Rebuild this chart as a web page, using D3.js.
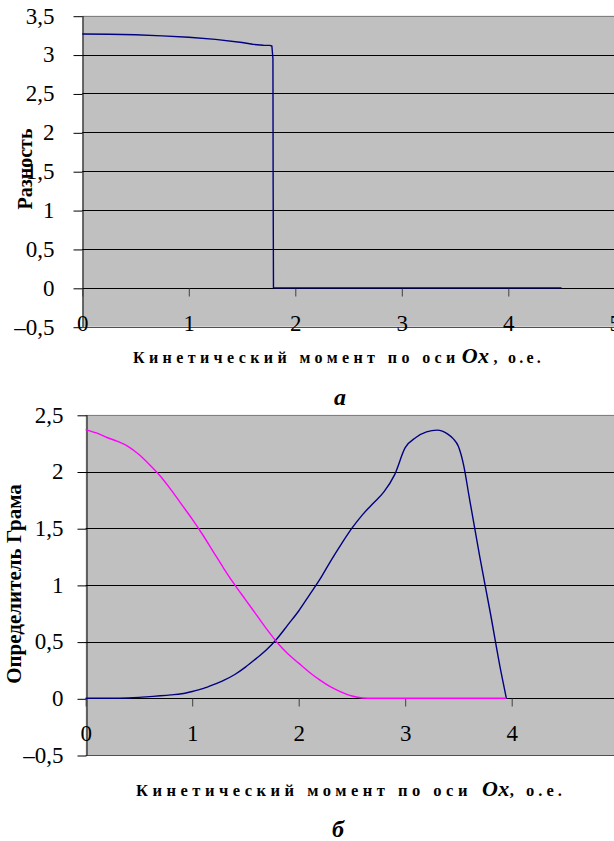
<!DOCTYPE html>
<html>
<head>
<meta charset="utf-8">
<script src="https://cdn.jsdelivr.net/npm/d3@7"></script>
<style>
  html, body { margin: 0; padding: 0; background: #fff; }
  svg { display: block; }
  text { font-family: "Liberation Serif", "Times New Roman", serif; fill: #000; }
</style>
</head>
<body>
<svg id="fig" width="614" height="841"></svg>
<script>
// Panel (а): difference vs kinetic moment about Ox
const diffX = [0, 0.25, 0.5, 0.75, 1.0, 1.25, 1.5, 1.6, 1.7, 1.76, 1.78, 1.79, 1.792, 1.795, 2.0, 2.5, 3.0, 3.5, 4.0, 4.5];
const diffY = [3.265, 3.262, 3.255, 3.24, 3.222, 3.195, 3.155, 3.132, 3.12, 3.118, 3.11, 2.95, 1.3, 0, 0, 0, 0, 0, 0, 0];

// Panel (б): two Gram determinants vs kinetic moment about Ox
const gramX = [0, 0.1, 0.2, 0.3, 0.4, 0.5, 0.6, 0.7, 0.8, 0.9, 1.0, 1.1, 1.2, 1.3, 1.4, 1.5, 1.6, 1.7, 1.8, 1.9,
               2.0, 2.1, 2.2, 2.3, 2.4, 2.5, 2.6, 2.7, 2.8, 2.9, 3.0, 3.1, 3.2, 3.3, 3.4, 3.45, 3.5, 3.55, 3.6, 3.7, 3.8, 3.9, 3.95];
const gramBlue = [0, 0, 0, 0.001, 0.003, 0.008, 0.015, 0.022, 0.03, 0.04, 0.06, 0.085, 0.12, 0.16, 0.21, 0.275, 0.35, 0.43, 0.53, 0.65,
                  0.77, 0.91, 1.05, 1.21, 1.36, 1.50, 1.62, 1.72, 1.82, 1.97, 2.21, 2.30, 2.35, 2.365, 2.33, 2.29, 2.22, 2.05, 1.78, 1.25, 0.75, 0.23, 0];
const gramPink = [2.37, 2.34, 2.30, 2.265, 2.22, 2.15, 2.06, 1.96, 1.84, 1.71, 1.58, 1.44, 1.29, 1.14, 1.0, 0.87, 0.74, 0.61, 0.49, 0.39,
                  0.31, 0.23, 0.16, 0.10, 0.055, 0.02, 0.003, 0, 0, 0, 0, 0, 0, 0, 0, 0, 0, 0, 0, 0, 0, 0, 0];

const xTicks = [0, 1, 2, 3, 4, 5];
const diffTicks = [-0.5, 0, 0.5, 1, 1.5, 2, 2.5, 3, 3.5];
const gramTicks = [-0.5, 0, 0.5, 1, 1.5, 2, 2.5];

const svg = d3.select("#fig");
const W = 614;

const fmt = v => (v < 0 ? "\u2013" : "") + String(Math.abs(v)).replace(".", ",");

function panel(cfg) {
  const { x, y, yTicks, labelPad, yTitle, yTitlePos, series, title, letter } = cfg;
  const g = svg.append("g");
  const [x0] = x.range();
  const [yb, yt] = y.range();

  // plot background
  g.append("rect")
    .attr("x", x0).attr("y", yt)
    .attr("width", W - x0).attr("height", yb - yt)
    .attr("fill", "#c0c0c0");

  // horizontal gridlines (bottom edge dark grey, top edge grey)
  g.append("g").selectAll("line")
    .data(yTicks)
    .join("line")
    .attr("x1", x0).attr("x2", W)
    .attr("y1", d => Math.round(y(d)) + 0.5).attr("y2", d => Math.round(y(d)) + 0.5)
    .attr("stroke", (d, i) => i === yTicks.length - 1 ? "#808080" : (i === 0 ? "#505050" : "#000"))
    .attr("stroke-width", 1);

  // y axis
  g.append("g")
    .attr("transform", `translate(${Math.round(x0) + 0.5},0)`)
    .call(d3.axisLeft(y).tickValues(yTicks).tickSizeInner(9).tickSizeOuter(0).tickPadding(labelPad).tickFormat(fmt))
    .call(a => a.select(".domain").attr("stroke", "#000"))
    .call(a => a.selectAll(".tick line").attr("stroke", "#000").attr("transform", "translate(0,0.5)"))
    .call(a => a.selectAll("text").attr("font-size", 23).attr("font-family", "Liberation Serif").attr("fill", "#000"));

  // x axis at y = 0, labels sit inside the plot near its bottom
  g.append("g")
    .attr("transform", `translate(0,${Math.round(y(0)) + 0.5})`)
    .call(d3.axisBottom(x).tickValues(xTicks).tickSizeInner(8).tickSizeOuter(0).tickFormat(d3.format("d")))
    .call(a => a.select(".domain").remove())
    .call(a => a.selectAll(".tick line").attr("stroke", "#404040"))
    .call(a => a.selectAll("text").attr("y", 34).attr("dy", "0.35em")
      .attr("font-size", 23).attr("font-family", "Liberation Serif").attr("fill", "#000"));

  // data lines
  series.forEach(s => {
    const line = d3.line()
      .x((d, i) => x(s.xs[i]))
      .y(d => y(d))
      .curve(s.curve);
    g.append("path")
      .datum(s.ys)
      .attr("d", line)
      .attr("fill", "none")
      .attr("stroke", s.color)
      .attr("stroke-width", 1.4)
      .attr("stroke-linejoin", "round");
  });

  // y title
  g.append("text")
    .attr("transform", `translate(${yTitlePos.x},${yTitlePos.y}) rotate(-90)`)
    .attr("text-anchor", "middle")
    .attr("dy", "0.35em")
    .attr("font-size", yTitlePos.size)
    .attr("font-weight", "bold")
    .text(yTitle);

  // x title
  const t = g.append("text")
    .attr("x", title.x).attr("y", title.y)
    .attr("font-weight", "bold");
  t.append("tspan").attr("font-size", title.size).attr("letter-spacing", title.spacing).text("Кинетический момент по оси");
  t.append("tspan").attr("font-size", 22).attr("font-style", "italic").attr("dx", title.oxGap).attr("letter-spacing", 0.5).text("Ox");
  t.append("tspan").attr("font-size", title.size).attr("letter-spacing", title.tailSpacing).attr("dx", title.commaGap).text(", о.е.");

  // panel letter
  g.append("text")
    .attr("x", letter.x).attr("y", letter.y)
    .attr("text-anchor", "middle")
    .attr("font-size", 24)
    .attr("font-weight", "bold")
    .attr("font-style", "italic")
    .text(letter.t);
}

const xa = d3.scaleLinear().domain([0, 5]).range([82.3, 614.8]);
const ya = d3.scaleLinear().domain([-0.5, 3.5]).range([326.7, 15.7]);
panel({
  x: xa, y: ya, yTicks: diffTicks, labelPad: 19,
  yTitle: "Разность", yTitlePos: { x: 25, y: 169, size: 20 },
  series: [{ xs: diffX, ys: diffY, color: "#000080", curve: d3.curveLinear }],
  title: { x: 133, y: 363, size: 16, spacing: 4.4, tailSpacing: 3.2, oxGap: 2, commaGap: 4 },
  letter: { x: 340, y: 405, t: "а" }
});

const xb = d3.scaleLinear().domain([0, 5]).range([85.7, 618.2]);
const yb = d3.scaleLinear().domain([-0.5, 2.5]).range([755, 414.8]);
panel({
  x: xb, y: yb, yTicks: gramTicks, labelPad: 14,
  yTitle: "Определитель Грама", yTitlePos: { x: 14, y: 584, size: 21 },
  series: [
    { xs: gramX, ys: gramBlue, color: "#000080", curve: d3.curveMonotoneX },
    { xs: gramX, ys: gramPink, color: "#ff00ff", curve: d3.curveMonotoneX }
  ],
  title: { x: 136, y: 796, size: 16.5, spacing: 4.5, tailSpacing: 4, oxGap: 10, commaGap: 0 },
  letter: { x: 338, y: 837, t: "б" }
});
</script>
</body>
</html>
